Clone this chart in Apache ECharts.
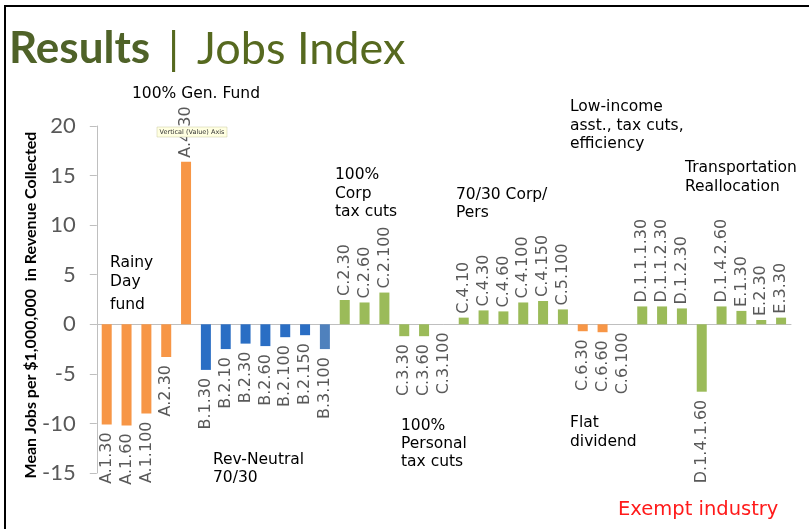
<!DOCTYPE html>
<html><head><meta charset="utf-8">
<script src="https://cdn.jsdelivr.net/npm/echarts@6/dist/echarts.min.js"></script>
<style>html,body{margin:0;padding:0;background:#fff}#c{width:809px;height:529px}</style>
</head><body><div id="c"></div><script>
const N = null;
const categories = ['A.1.30','A.1.60','A.1.100','A.2.30','A.4.30',
  'B.1.30','B.2.10','B.2.30','B.2.60','B.2.100','B.2.150','B.3.100',
  'C.2.30','C.2.60','C.2.100','C.3.30','C.3.60','C.3.100',
  'C.4.10','C.4.30','C.4.60','C.4.100','C.4.150','C.5.100',
  'C.6.30','C.6.60','C.6.100',
  'D.1.1.1.30','D.1.1.2.30','D.1.2.30','D.1.4.1.60','D.1.4.2.60','E.1.30','E.2.30','E.3.30'];
const orangeValues = [-10.1,-10.2,-9.0,-3.3,16.4, N,N,N,N,N,N, N, N,N,N,N,N,N,N,N,N,N,N,N, -0.7,-0.8,0, N,N,N,N,N,N,N,N];
const blueValues   = [N,N,N,N,N, -4.6,-2.5,-1.95,-2.2,-1.3,-1.1, N, N,N,N,N,N,N,N,N,N,N,N,N, N,N,N, N,N,N,N,N,N,N,N];
const steelValues  = [N,N,N,N,N, N,N,N,N,N,N, -2.5, N,N,N,N,N,N,N,N,N,N,N,N, N,N,N, N,N,N,N,N,N,N,N];
const greenValues  = [N,N,N,N,N, N,N,N,N,N,N, N, 2.45,2.2,3.2,-1.2,-1.2,0,0.67,1.4,1.3,2.2,2.35,1.5, N,N,N, 1.8,1.8,1.6,-6.8,1.8,1.35,0.43,0.67];
const yTicks = {min:-15, max:20, interval:5};

const labelFont = {fontFamily:'DejaVu Sans', fontSize:16, color:'#595959'};
const fmt = p => categories[p.dataIndex];
const posLabel = Object.assign({show:true, position:'top', rotate:90, align:'left', verticalAlign:'middle', distance:4, formatter:fmt}, labelFont);
const negLabel = Object.assign({show:true, position:'bottom', rotate:90, align:'right', verticalAlign:'middle', distance:8, formatter:fmt}, labelFont);
function build(arr){
  return arr.map(v => v === null ? '-' : {value:v, label: v > 0 ? posLabel : negLabel});
}
function mk(arr, color){
  return {type:'bar', stack:'all', barWidth:10, data:build(arr), itemStyle:{color:color}, silent:true, animation:false};
}

const annFont = 'DejaVu Sans';
function ann(x, yc, text, lh, size, color){
  lh = lh || 18.6; size = size || 15.5;
  return {type:'text', x:x, y:yc - lh/2, z:50,
    style:{text:text, fontFamily:annFont, fontSize:size, lineHeight:lh, fill:color||'#000', verticalAlign:'top', align:'left'}};
}

const chart = echarts.init(document.getElementById('c'), null, {renderer:'canvas'});
chart.setOption({
  animation:false,
  grid:{left:96.8, right:18, top:126, bottom:56},
  xAxis:{type:'category', data:categories, axisLine:{lineStyle:{color:'#bfbfbf', width:1}}, axisTick:{show:false}, axisLabel:{show:false}},
  yAxis:{type:'value', min:yTicks.min, max:yTicks.max, interval:yTicks.interval, splitLine:{show:false},
    axisLine:{show:true, lineStyle:{color:'#bfbfbf'}}, axisTick:{show:true, length:7, lineStyle:{color:'#bfbfbf'}},
    axisLabel:{fontFamily:'Lato', fontSize:22, color:'#595959', margin:21}},
  series:[mk(orangeValues,'#f79646'), mk(blueValues,'#2a6ec4'), mk(steelValues,'#4f81bd'), mk(greenValues,'#9bbb59')],
  graphic:[
    {type:'line', shape:{x1:4, y1:6, x2:809, y2:6}, style:{stroke:'#000', lineWidth:2}},
    {type:'line', shape:{x1:5, y1:6, x2:5, y2:529}, style:{stroke:'#000', lineWidth:2}},
    {type:'text', x:9, y:27, style:{text:'Results', fontFamily:'Lato', fontWeight:'bold', fontSize:44, fill:'#4f6228', verticalAlign:'top'}},
    {type:'text', x:168, y:27, style:{text:'|', fontFamily:'Lato', fontSize:44.5, fill:'#56691f', verticalAlign:'top'}},
    {type:'text', x:197, y:27, style:{text:'Jobs Index', fontFamily:'Lato', fontSize:45, fill:'#56691f', verticalAlign:'top'}},
    {type:'text', x:31, y:305, rotation:Math.PI/2, style:{text:'Mean Jobs per $1,000,000  in Revenue Collected', fontFamily:'Lato', fontWeight:'bold', fontSize:16, fill:'#000', align:'center', verticalAlign:'middle'}},
    ann(132, 94, '100% Gen. Fund'),
    ann(110, 263, 'Rainy\nDay', 18.6),
    ann(110, 304.5, 'fund'),
    ann(213, 460, 'Rev-Neutral\n70/30', 18.4),
    ann(335, 175, '100%\nCorp\ntax cuts', 18.7),
    ann(456, 195, '70/30 Corp/\nPers', 18.4),
    ann(401, 426, '100%\nPersonal\ntax cuts', 18.2),
    ann(570, 107.3, 'Low-income\nasst., tax cuts,\nefficiency', 18.5),
    ann(570, 423.3, 'Flat\ndividend', 18.7),
    ann(685, 168.3, 'Transportation\nReallocation', 18.4),
    ann(618, 510, 'Exempt industry', 24, 19.5, '#ff1a1a'),
    {type:'rect', z:60, shape:{x:157, y:127, width:70, height:10}, style:{fill:'#ffffe1', stroke:'#c8c8a0', lineWidth:0.5}},
    {type:'text', z:61, x:192, y:132, style:{text:'Vertical (Value) Axis', fontFamily:'DejaVu Sans', fontSize:6.5, fill:'#333', align:'center', verticalAlign:'middle'}}
  ]
});
</script></body></html>
